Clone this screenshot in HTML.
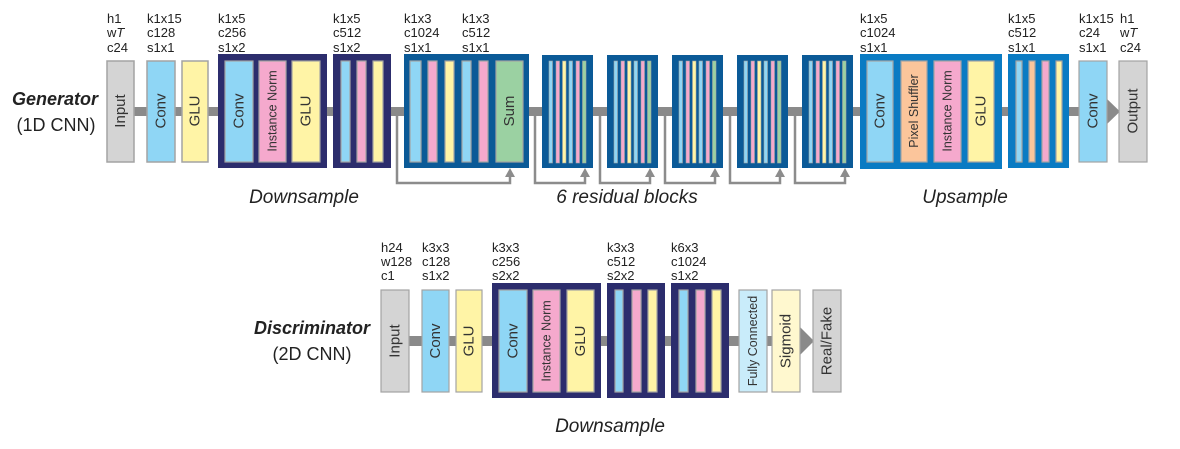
<!DOCTYPE html>
<html><head><meta charset="utf-8"><style>
html,body{margin:0;padding:0;background:#fff;}
svg{display:block;font-family:"Liberation Sans",Arial,sans-serif;}
</style></head><body>
<svg width="1180" height="449" viewBox="0 0 1180 449" xmlns="http://www.w3.org/2000/svg">
<!-- trunks -->
<rect x="120" y="107" width="990" height="9" fill="#8a8a8a"/>
<polygon points="1106,98 1120,111.5 1106,125" fill="#8a8a8a"/>
<rect x="395" y="336" width="408" height="10" fill="#8a8a8a"/>
<polygon points="800,327 814,341 800,355" fill="#8a8a8a"/>

<!-- skip connections -->
<g fill="none" stroke="#8c8c8c" stroke-width="2.5">
<polyline points="397,116 397,183 510,183 510,175"/>
<polyline points="535,116 535,183 585,183 585,175"/>
<polyline points="600,116 600,183 650,183 650,175"/>
<polyline points="665,116 665,183 715,183 715,175"/>
<polyline points="730,116 730,183 780,183 780,175"/>
<polyline points="795,116 795,183 845,183 845,175"/>
</g>
<g fill="#8c8c8c">
<polygon points="505,177 510,168 515,177"/>
<polygon points="580,177 585,168 590,177"/>
<polygon points="645,177 650,168 655,177"/>
<polygon points="710,177 715,168 720,177"/>
<polygon points="775,177 780,168 785,177"/>
<polygon points="840,177 845,168 850,177"/>
</g>

<g stroke="#a3a3a3" stroke-width="1.5">
<!-- generator -->
<rect x="107" y="61" width="27" height="101" fill="#d4d4d4"/>
<rect x="147" y="61" width="28" height="101" fill="#8fd6f5"/>
<rect x="182" y="61" width="26" height="101" fill="#fff4a6"/>
</g>
<rect x="218" y="54" width="109" height="114" fill="#2c2d6d"/>
<rect x="333" y="54" width="58" height="114" fill="#2c2d6d"/>
<rect x="404" y="54" width="125" height="114" fill="#0b5a97"/>
<g fill="#0b5a97">
<rect x="542" y="55" width="51" height="113"/>
<rect x="607" y="55" width="51" height="113"/>
<rect x="672" y="55" width="51" height="113"/>
<rect x="737" y="55" width="51" height="113"/>
<rect x="802" y="55" width="51" height="113"/>
</g>
<rect x="860" y="54" width="142" height="115" fill="#0a7bc3"/>
<rect x="1008" y="54" width="61" height="114" fill="#0a7bc3"/>

<g stroke="#a3a3a3" stroke-width="1.2">
<rect x="225" y="61" width="28" height="101" fill="#8fd6f5"/>
<rect x="259" y="61" width="27" height="101" fill="#f5a9cd"/>
<rect x="292" y="61" width="28" height="101" fill="#fff4a6"/>
<rect x="341" y="61" width="9" height="101" fill="#8fd6f5"/>
<rect x="357" y="61" width="9" height="101" fill="#f5a9cd"/>
<rect x="373" y="61" width="10" height="101" fill="#fff4a6"/>
<rect x="410" y="61" width="11" height="101" fill="#8fd6f5"/>
<rect x="428" y="61" width="9" height="101" fill="#f5a9cd"/>
<rect x="445" y="61" width="9" height="101" fill="#fff4a6"/>
<rect x="462" y="61" width="9" height="101" fill="#8fd6f5"/>
<rect x="479" y="61" width="9" height="101" fill="#f5a9cd"/>
<rect x="496" y="61" width="27" height="101" fill="#9bd1a2"/>
</g>
<g stroke="#a3a3a3" stroke-width="0.6">
<g id="rb">
<rect x="549" y="61" width="3.5" height="102" fill="#8fd6f5"/>
<rect x="556" y="61" width="3.5" height="102" fill="#f5a9cd"/>
<rect x="562.5" y="61" width="3.5" height="102" fill="#fff4a6"/>
<rect x="569" y="61" width="3.5" height="102" fill="#8fd6f5"/>
<rect x="576" y="61" width="3.5" height="102" fill="#f5a9cd"/>
<rect x="582.5" y="61" width="3.5" height="102" fill="#9bd1a2"/>
</g>
<use href="#rb" x="65"/>
<use href="#rb" x="130"/>
<use href="#rb" x="195"/>
<use href="#rb" x="260"/>
</g>
<g stroke="#a3a3a3" stroke-width="1.2">
<rect x="867" y="61" width="26" height="101" fill="#8fd6f5"/>
<rect x="901" y="61" width="26" height="101" fill="#fbc59b"/>
<rect x="934" y="61" width="27" height="101" fill="#f5a9cd"/>
<rect x="968" y="61" width="26" height="101" fill="#fff4a6"/>
<rect x="1016" y="61" width="6" height="101" fill="#8fd6f5"/>
<rect x="1029" y="61" width="6" height="101" fill="#fbc59b"/>
<rect x="1042" y="61" width="7" height="101" fill="#f5a9cd"/>
<rect x="1056" y="61" width="6" height="101" fill="#fff4a6"/>
<rect x="1079" y="61" width="28" height="101" fill="#8fd6f5"/>
<rect x="1119" y="61" width="28" height="101" fill="#d4d4d4"/>
</g>

<!-- discriminator -->
<rect x="492" y="283" width="109" height="115" fill="#2c2d6d"/>
<rect x="607" y="283" width="58" height="115" fill="#2c2d6d"/>
<rect x="671" y="283" width="58" height="115" fill="#2c2d6d"/>
<g stroke="#a3a3a3" stroke-width="1.2">
<rect x="381" y="290" width="28" height="102" fill="#d4d4d4"/>
<rect x="422" y="290" width="27" height="102" fill="#8fd6f5"/>
<rect x="456" y="290" width="26" height="102" fill="#fff4a6"/>
<rect x="499" y="290" width="28" height="102" fill="#8fd6f5"/>
<rect x="533" y="290" width="27" height="102" fill="#f5a9cd"/>
<rect x="567" y="290" width="27" height="102" fill="#fff4a6"/>
<rect x="615" y="290" width="8" height="102" fill="#8fd6f5"/>
<rect x="632" y="290" width="9" height="102" fill="#f5a9cd"/>
<rect x="648" y="290" width="9" height="102" fill="#fff4a6"/>
<rect x="679" y="290" width="9" height="102" fill="#8fd6f5"/>
<rect x="696" y="290" width="9" height="102" fill="#f5a9cd"/>
<rect x="712" y="290" width="9" height="102" fill="#fff4a6"/>
<rect x="739" y="290" width="28" height="102" fill="#c9ecfa"/>
<rect x="772" y="290" width="28" height="102" fill="#fff8cf"/>
<rect x="813" y="290" width="28" height="102" fill="#d4d4d4"/>
</g>

<!-- vertical labels -->
<g fill="#333" text-anchor="middle" dominant-baseline="central" font-size="15">
<text transform="translate(120.5,111) rotate(-90)">Input</text>
<text transform="translate(161,111) rotate(-90)">Conv</text>
<text transform="translate(195,111) rotate(-90)">GLU</text>
<text transform="translate(239,111) rotate(-90)">Conv</text>
<text transform="translate(272.5,111) rotate(-90)" font-size="12.5">Instance Norm</text>
<text transform="translate(306,111) rotate(-90)">GLU</text>
<text transform="translate(509.5,111) rotate(-90)">Sum</text>
<text transform="translate(880,111) rotate(-90)">Conv</text>
<text transform="translate(914,111) rotate(-90)" font-size="12.5">Pixel Shuffler</text>
<text transform="translate(947.5,111) rotate(-90)" font-size="12.5">Instance Norm</text>
<text transform="translate(981,111) rotate(-90)">GLU</text>
<text transform="translate(1093,111) rotate(-90)">Conv</text>
<text transform="translate(1133,111) rotate(-90)">Output</text>
<text transform="translate(395,341) rotate(-90)">Input</text>
<text transform="translate(435.5,341) rotate(-90)">Conv</text>
<text transform="translate(469,341) rotate(-90)">GLU</text>
<text transform="translate(513,341) rotate(-90)">Conv</text>
<text transform="translate(546.5,341) rotate(-90)" font-size="12.5">Instance Norm</text>
<text transform="translate(580.5,341) rotate(-90)">GLU</text>
<text transform="translate(753,341) rotate(-90)" font-size="12.5">Fully Connected</text>
<text transform="translate(786,341) rotate(-90)">Sigmoid</text>
<text transform="translate(827,341) rotate(-90)">Real/Fake</text>
</g>

<!-- parameter texts -->
<g fill="#222" font-size="13">
<text x="107" y="23">h1</text><text x="107" y="37">w<tspan font-style="italic">T</tspan></text><text x="107" y="52">c24</text>
<text x="147" y="23">k1x15</text><text x="147" y="37">c128</text><text x="147" y="52">s1x1</text>
<text x="218" y="23">k1x5</text><text x="218" y="37">c256</text><text x="218" y="52">s1x2</text>
<text x="333" y="23">k1x5</text><text x="333" y="37">c512</text><text x="333" y="52">s1x2</text>
<text x="404" y="23">k1x3</text><text x="404" y="37">c1024</text><text x="404" y="52">s1x1</text>
<text x="462" y="23">k1x3</text><text x="462" y="37">c512</text><text x="462" y="52">s1x1</text>
<text x="860" y="23">k1x5</text><text x="860" y="37">c1024</text><text x="860" y="52">s1x1</text>
<text x="1008" y="23">k1x5</text><text x="1008" y="37">c512</text><text x="1008" y="52">s1x1</text>
<text x="1079" y="23">k1x15</text><text x="1079" y="37">c24</text><text x="1079" y="52">s1x1</text>
<text x="1120" y="23">h1</text><text x="1120" y="37">w<tspan font-style="italic">T</tspan></text><text x="1120" y="52">c24</text>
<text x="381" y="252">h24</text><text x="381" y="266">w128</text><text x="381" y="280">c1</text>
<text x="422" y="252">k3x3</text><text x="422" y="266">c128</text><text x="422" y="280">s1x2</text>
<text x="492" y="252">k3x3</text><text x="492" y="266">c256</text><text x="492" y="280">s2x2</text>
<text x="607" y="252">k3x3</text><text x="607" y="266">c512</text><text x="607" y="280">s2x2</text>
<text x="671" y="252">k6x3</text><text x="671" y="266">c1024</text><text x="671" y="280">s1x2</text>
</g>

<!-- titles -->
<g fill="#222" text-anchor="middle" font-size="18">
<text x="55" y="105" font-weight="bold" font-style="italic">Generator</text>
<text x="56" y="131">(1D CNN)</text>
<text x="312" y="334" font-weight="bold" font-style="italic">Discriminator</text>
<text x="312" y="360">(2D CNN)</text>
</g>
<g fill="#222" text-anchor="middle" font-size="19" font-style="italic">
<text x="304" y="203">Downsample</text>
<text x="627" y="203">6 residual blocks</text>
<text x="965" y="203">Upsample</text>
<text x="610" y="432">Downsample</text>
</g>
</svg>
</body></html>
